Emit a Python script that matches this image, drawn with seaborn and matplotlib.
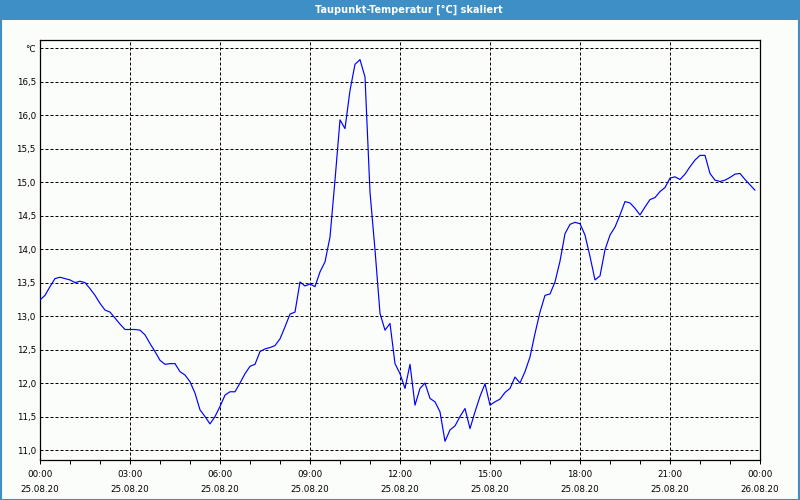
import numpy as np
import pandas as pd
import matplotlib
matplotlib.use("Agg")
import matplotlib.pyplot as plt
from matplotlib.patches import Rectangle
import seaborn as sns

# ---- data (10-minute readings, 25.08.20 00:00 .. 23:50) ----
dewpoint = [
    13.24, 13.31, 13.44, 13.56, 13.58, 13.56, 13.54, 13.50, 13.52, 13.50,
    13.41, 13.31, 13.19, 13.09, 13.06, 12.97, 12.88, 12.80, 12.80, 12.80,
    12.79, 12.72, 12.59, 12.47, 12.34, 12.28, 12.29, 12.29, 12.17, 12.12,
    12.02, 11.85, 11.60, 11.50, 11.39, 11.50, 11.65, 11.82, 11.87, 11.87,
    12.00, 12.14, 12.25, 12.28, 12.47, 12.51, 12.53, 12.56, 12.66, 12.84,
    13.03, 13.06, 13.51, 13.45, 13.48, 13.44, 13.66, 13.81, 14.18, 15.03,
    15.93, 15.80, 16.37, 16.76, 16.83, 16.57, 14.85, 13.99, 13.04, 12.79,
    12.89, 12.29, 12.14, 11.92, 12.28, 11.67, 11.92, 12.00, 11.77, 11.72,
    11.57, 11.13, 11.30, 11.36, 11.50, 11.62, 11.32, 11.57, 11.80, 11.99,
    11.67, 11.72, 11.76, 11.86, 11.92, 12.09, 12.00, 12.17, 12.39, 12.74,
    13.06, 13.31, 13.33, 13.51, 13.82, 14.23, 14.37, 14.40, 14.38, 14.21,
    13.89, 13.54, 13.60, 13.99, 14.21, 14.33, 14.51, 14.71, 14.69, 14.61,
    14.51, 14.63, 14.74, 14.77, 14.86, 14.92, 15.06, 15.08, 15.04, 15.12,
    15.23, 15.33, 15.40, 15.40, 15.13, 15.03, 15.01, 15.03, 15.07, 15.12,
    15.13, 15.04, 14.96, 14.88,
]
hours = np.arange(len(dewpoint)) * 10 / 60.0

x_tick_pos = [0, 3, 6, 9, 12, 15, 18, 21, 24]
x_tick_labels = ["00:00\n25.08.20", "03:00\n25.08.20", "06:00\n25.08.20",
                 "09:00\n25.08.20", "12:00\n25.08.20", "15:00\n25.08.20",
                 "18:00\n25.08.20", "21:00\n25.08.20", "00:00\n26.08.20"]
y_tick_pos = [11.0, 11.5, 12.0, 12.5, 13.0, 13.5, 14.0, 14.5, 15.0, 15.5,
              16.0, 16.5, 17.0]
y_tick_labels = ["11,0", "11,5", "12,0", "12,5", "13,0", "13,5", "14,0",
                 "14,5", "15,0", "15,5", "16,0", "16,5", "°C"]
title = "Taupunkt-Temperatur [°C] skaliert"

df = pd.DataFrame({"hours": hours, "value": dewpoint})

sns.set_theme(style="white")
plt.rcParams["font.family"] = ["DejaVu Sans"]

W, H = 800, 500
fig = plt.figure(figsize=(W / 100, H / 100), dpi=100)
bg = "#fbfdfb"
fig.patch.set_facecolor(bg)
blue = "#3d8fc6"

# title bar and outer frame
fig.patches.append(Rectangle((0, 1 - 20 / H), 1, 20 / H, transform=fig.transFigure,
                             facecolor=blue, edgecolor="none", zorder=0))
fig.patches.append(Rectangle((0.5 / W, 0.5 / H), 1 - 2 / W, 1 - 1.5 / H,
                             transform=fig.transFigure, facecolor="none",
                             edgecolor=blue, linewidth=1.5, zorder=5))
fig.text(409 / W, 1 - 10 / H, title, color="white", fontsize=7.0,
         fontweight="bold", ha="center", va="center")

ax = fig.add_axes([40 / W, 1 - 460 / H, 720 / W, 420 / H])
ax.set_facecolor(bg)

sns.lineplot(data=df, x="hours", y="value", ax=ax, color="#0000ff",
             linewidth=0.85, zorder=3)

ax.set_xlim(0, 24)
ax.set_ylim(10.851, 17.123)
ax.set_xticks(x_tick_pos)
ax.set_xticklabels(x_tick_labels, fontsize=6.3, linespacing=1.85, color="black")
ax.set_xticks(np.arange(0, 25, 1), minor=True)
ax.set_yticks(y_tick_pos)
ax.set_yticklabels(y_tick_labels, fontsize=6.3, color="black")
ax.set_xlabel("")
ax.set_ylabel("")

ax.tick_params(axis="x", which="both", direction="out", length=3, width=0.72,
               color="black", pad=4, bottom=True)
ax.tick_params(axis="y", which="both", length=0, pad=3)

grid_style = dict(color="black", linewidth=0.72, linestyle=(0, (3, 2)))
ax.grid(False)
for y in y_tick_pos:
    ax.axhline(y, zorder=1, **grid_style)
for x in x_tick_pos[1:-1]:
    ax.axvline(x, zorder=1, **grid_style)

for s in ax.spines.values():
    s.set_visible(True)
    s.set_color("black")
    s.set_linewidth(0.9)

fig.savefig("out.png", dpi=100, facecolor=bg)
